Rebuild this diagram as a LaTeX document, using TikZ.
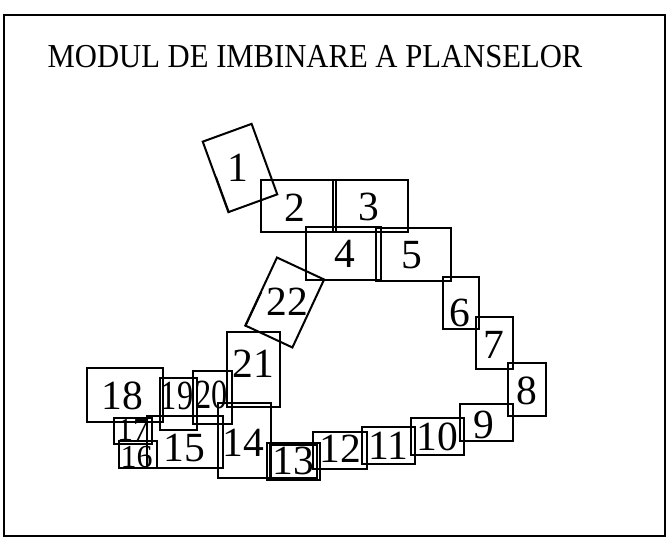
\documentclass[tikz,border=0pt]{standalone}
\usepackage{fontspec}
\usepackage{graphicx}
\setmainfont{Liberation Serif}
\usetikzlibrary{calc}
\newcommand\bignum{\fontsize{41.5}{41.5}\selectfont}
\newcommand\smallnum{\fontsize{32}{32}\selectfont}
\newcommand\titlefont{\fontsize{33.5}{33.5}\selectfont}
\tikzset{
  plate/.style={draw, line width=2pt, inner sep=0pt, minimum width=#1},
  plateh/.style={minimum height=#1},
  num/.style={font=\bignum, inner sep=0pt},
  smallnumber/.style={font=\smallnum, inner sep=0pt, text height=21.6pt, text depth=0pt},
  doubleline/.style={line width=1.6pt},
  frameline/.style={draw, line width=1.4pt},
}
\begin{document}
\begin{tikzpicture}[x=1pt,y=-1pt]
\useasboundingbox (0,0) rectangle (669,540);
\draw[frameline] (4,15) rectangle (665,536);
\node[anchor=base west, inner sep=0pt, font=\titlefont] (title) at (47.5,67.3) {\scalebox{0.915}[1]{MODUL DE IMBINARE A PLANSELOR}};

% plates
\node[plate=52pt, plateh=75pt, rotate=20] (n1) at (240,168) {};
\node[plate=75pt, plateh=52pt] (n2) at (298.5,206) {};
\node[plate=75pt, plateh=52pt] (n3) at (370,206) {};
\node[plate=75pt, plateh=53pt] (n4) at (343.5,253.5) {};
\node[plate=75pt, plateh=53pt] (n5) at (413.5,254) {};
\node[plate=36pt, plateh=52pt] (n6) at (461,303) {};
\node[plate=37pt, plateh=52pt] (n7) at (494.5,343) {};
\node[plate=38pt, plateh=53pt] (n8) at (527,389.5) {};
\node[plate=53pt, plateh=37pt] (n9) at (486.5,422.5) {};
\node[plate=53pt, plateh=37pt] (n10) at (437.5,436.5) {};
\node[plate=53pt, plateh=37pt] (n11) at (388.5,445.5) {};
\node[plate=54pt, plateh=37pt] (n12) at (340,450.5) {};
\node[plate=53pt, plateh=37pt] (n13) at (293.5,461.5) {};
\node[plate=47pt, plateh=33pt] (n13b) at (293.5,461.5) {};
\node[plate=53pt, plateh=75pt] (n14) at (244.5,440.5) {};
\node[plate=76pt, plateh=52pt] (n15) at (185,442) {};
\node[plate=38pt, plateh=27pt] (n16) at (138,454.5) {};
\node[plate=38pt, plateh=26pt] (n17) at (133,431) {};
\node[plate=76pt, plateh=54pt] (n18) at (125,395) {};
\node[plate=37pt, plateh=52pt] (n19) at (178.5,404) {};
\node[plate=39pt, plateh=53pt] (n20) at (212.5,397.5) {};
\node[plate=53pt, plateh=75pt] (n21) at (253.5,369.5) {};
\node[plate=52pt, plateh=75pt, rotate=-25] (n22) at (284.7,302.5) {};

% doubled lower half of the left edges
\foreach \n in {1,...,22}
  \draw[doubleline] ($(n\n.south west)!1.5pt!(n\n.south east)$) -- ($(n\n.west)!1.5pt!(n\n.east)$);

% labels
\node[num] (t1) at (238,168.3) {1};
\node[num] (t2) at (294.5,207.5) {2};
\node[num] (t3) at (368.5,206.5) {3};
\node[num] (t4) at (344.5,253.5) {4};
\node[num] (t5) at (411.7,255.5) {5};
\node[num] (t6) at (460,313) {6};
\node[num] (t7) at (493.5,345) {7};
\node[num] (t8) at (527,391) {8};
\node[num] (t9) at (484,425) {9};
\node[num] (t10) at (437.5,437) {10};
\node[num] (t11) at (388.5,446) {11};
\node[num] (t12) at (340,449) {12};
\node[num] (t13) at (293.5,461) {13};
\node[num] (t14) at (243,443) {14};
\node[num] (t15) at (184.5,448) {15};
\node[smallnumber] (t16) at (136.7,456.5) {16};
\node[smallnumber] (t17) at (133,430) {17};
\node[num] (t18) at (122,396) {18};
\node[num] (t19) at (177,396) {\scalebox{0.78}[1]{19}};
\node[num] (t20) at (211.3,395) {\scalebox{0.78}[1]{20}};
\node[num] (t21) at (253,364) {21};
\node[num] (t22) at (287,302) {22};
\end{tikzpicture}
\end{document}
